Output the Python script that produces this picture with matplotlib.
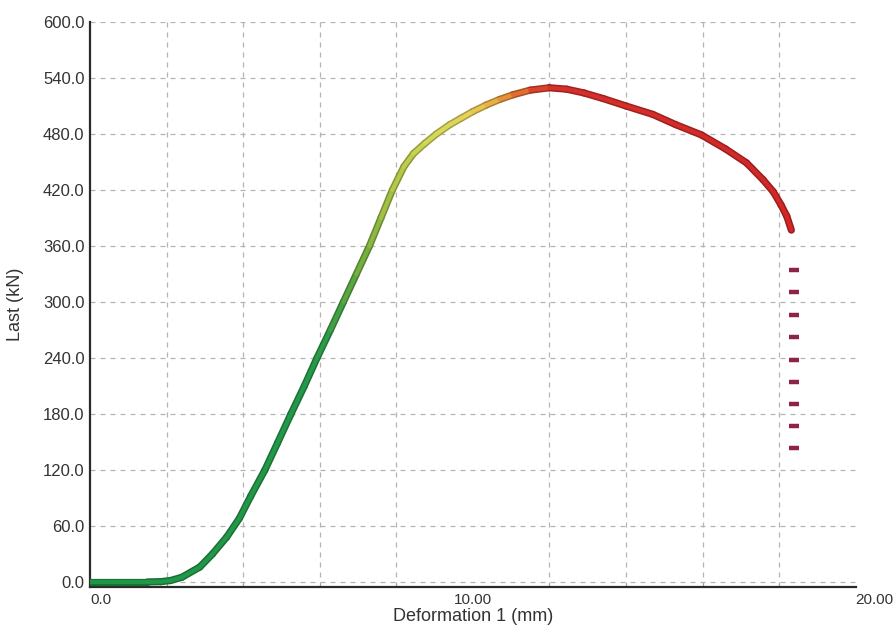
import numpy as np
import matplotlib
matplotlib.use("Agg")
import matplotlib.pyplot as plt
from matplotlib.collections import LineCollection
from matplotlib.colors import LinearSegmentedColormap
from matplotlib.ticker import MultipleLocator, FixedLocator

# ---- data ----
deformation = [0, 0.5, 1.0, 1.5, 1.85, 2.1, 2.4, 2.87, 3.2, 3.57, 3.9, 4.2, 4.57, 4.9,
               5.25, 5.6, 5.93, 6.28, 6.62, 6.96, 7.3, 7.6, 7.9, 8.2, 8.45, 8.75,
               9.05, 9.4, 9.7, 10.0, 10.35, 10.7, 11.05, 11.5, 12.0, 12.45, 12.9,
               13.4, 14.0, 14.7, 15.3, 15.97, 16.6, 17.15, 17.58, 17.85, 18.05, 18.2, 18.32]
load = [0, 0, 0, 0, 0.3, 1.5, 5, 16, 30, 48, 68, 92, 120, 149,
        180, 210, 240, 270, 300, 330, 360, 390, 420, 445, 459, 470,
        480, 490, 497, 504, 511, 517, 522, 527, 529.5, 528, 524,
        518, 510, 501, 490, 479, 464, 449, 431, 418, 404, 392, 377]

drop_x = [18.38] * 9
drop_y = [334, 310.5, 286, 262, 238, 214, 191, 167.5, 144]

y_ticks = [0, 60, 120, 180, 240, 300, 360, 420, 480, 540, 600]
y_labels = ["0.0", "60.0", "120.0", "180.0", "240.0", "300.0", "360.0",
            "420.0", "480.0", "540.0", "600.0"]
x_ticks = [0, 10, 20]
x_labels = ["0.0", "10.00", "20.00"]

plt.rcParams['font.family'] = ['Liberation Sans', 'DejaVu Sans']

fig = plt.figure(figsize=(8.96, 6.28), dpi=100)
ax = fig.add_axes([0.1004, 0.0653, 0.8546, 0.8997])
ax.set_xlim(0, 20)
ax.set_ylim(-5.4, 600)

# grid
ax.xaxis.set_major_locator(FixedLocator(x_ticks))
ax.xaxis.set_minor_locator(MultipleLocator(2))
ax.yaxis.set_major_locator(FixedLocator(y_ticks))
grid_kw = dict(color='#b4b4b4', linestyle=(0, (4, 4)), linewidth=0.9)
ax.grid(True, which='major', axis='y', **grid_kw)
ax.grid(True, which='minor', axis='x', **grid_kw)
ax.set_axisbelow(True)

# gradient colour along the curve
cmap = LinearSegmentedColormap.from_list("curve", [
    (0.0, '#1f9647'), (6.0 / 20, '#25984a'), (7.0 / 20, '#6cab40'),
    (8.0 / 20, '#b2c647'), (9.0 / 20, '#d6da5a'), (10.0 / 20, '#e6d258'),
    (10.7 / 20, '#e9a341'), (11.3 / 20, '#e26c31'), (12.0 / 20, '#d6302b'),
    (1.0, '#cf2528')])

x = np.asarray(deformation)
y = np.asarray(load)
pts = np.column_stack([x, y]).reshape(-1, 1, 2)
segs = np.concatenate([pts[:-1], pts[1:]], axis=1)
mid = (x[:-1] + x[1:]) / 2.0
cols = cmap(mid / 20.0)
dark = cols.copy()
dark[:, :3] = dark[:, :3] * 0.74

lc_under = LineCollection(segs, colors=dark, linewidths=5.2, capstyle='round',
                          joinstyle='round', zorder=3)
lc_top = LineCollection(segs, colors=cols, linewidths=3.0, capstyle='round',
                        joinstyle='round', zorder=4)
ax.add_collection(lc_under)
ax.add_collection(lc_top)

ax.plot(drop_x, drop_y, linestyle='none', marker='_', markersize=7,
        markeredgewidth=3.2, color='#8e2345', zorder=4)

# spines
for s in ['top', 'right']:
    ax.spines[s].set_visible(False)
for s in ['left', 'bottom']:
    ax.spines[s].set_color('#2a2a2a')
    ax.spines[s].set_linewidth(1.6)

ax.set_yticklabels(y_labels)
ax.set_xticklabels(x_labels)
ax.tick_params(axis='y', which='major', length=0, pad=4, labelsize=12,
               labelcolor='#333333')
ax.tick_params(axis='x', which='major', length=0, pad=4, labelsize=11,
               labelcolor='#333333')
ax.tick_params(axis='x', which='minor', direction='in', length=3, color='#999999')
xl = ax.get_xticklabels()
xl[0].set_ha('left')
xl[2].set_ha('left')

ax.set_xlabel("Deformation 1 (mm)", fontsize=13, color='#333333', labelpad=1)
ax.set_ylabel("Last (kN)", fontsize=13, color='#333333')
ax.yaxis.set_label_coords(-0.086, 0.5)

fig.savefig("out.png", dpi=100)
